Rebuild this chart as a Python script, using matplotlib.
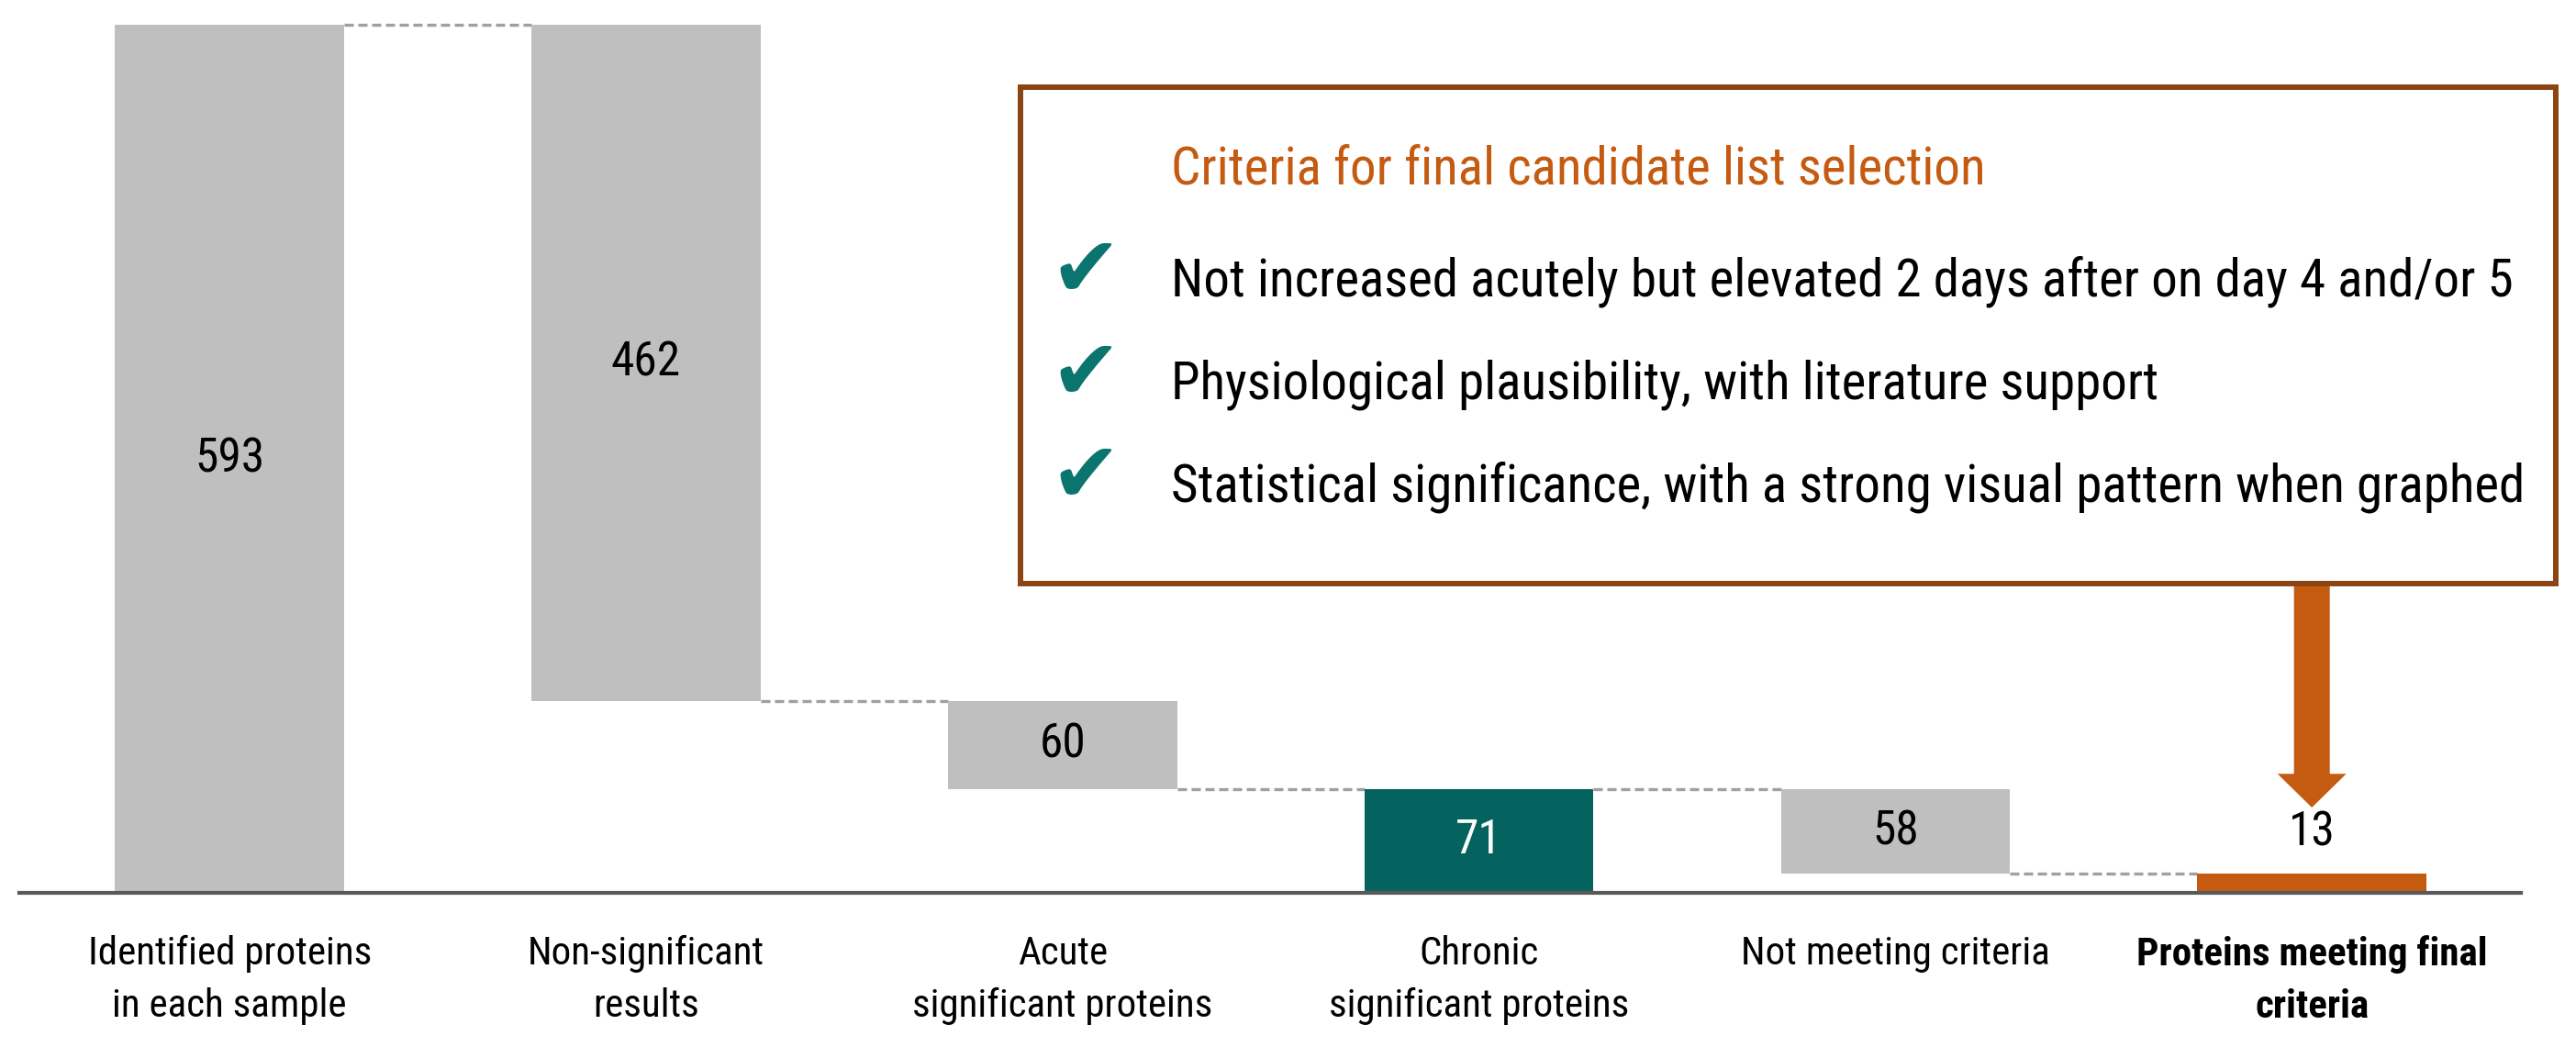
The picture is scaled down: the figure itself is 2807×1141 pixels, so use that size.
import matplotlib
matplotlib.use('Agg')
import matplotlib.pyplot as plt
from matplotlib import font_manager
from matplotlib.patches import Rectangle, FancyArrow

# pick a condensed font if there is one
names = {f.name for f in font_manager.fontManager.ttflist}
main_font = 'DejaVu Sans'
for cand in ['Roboto Condensed', 'Liberation Sans Narrow', 'Roboto', 'Liberation Sans']:
    if cand in names:
        main_font = cand
        break
plt.rcParams['font.family'] = [main_font, 'DejaVu Sans']

categories = ['Identified proteins\nin each sample', 'Non-significant\nresults',
              'Acute\nsignificant proteins', 'Chronic\nsignificant proteins',
              'Not meeting criteria', 'Proteins meeting final\ncriteria']
values = [593, 462, 60, 71, 58, 13]
kinds = ['total', 'down', 'down', 'total', 'down', 'total']

criteria_title = 'Criteria for final candidate list selection'
criteria = ['Not increased acutely but elevated 2 days after on day 4 and/or 5',
            'Physiological plausibility, with literature support',
            'Statistical significance, with a strong visual pattern when graphed']

GRAY = '#BFBFBF'
TEAL = '#05635F'
ORANGE = '#C55A11'
BROWN = '#8B4513'

W, H = 2807, 1141
fig = plt.figure(figsize=(W / 100, H / 100), dpi=100)
ax = fig.add_axes([21 / W, 168 / H, 2726 / W, 973 / H])

def fx(px):
    return px / W

def fy(py):
    return 1 - py / H

# waterfall bottoms
bottoms = []
level = 0
for v, k in zip(values, kinds):
    if k == 'total':
        bottoms.append(0)
        level = v
    else:
        level = level - v
        bottoms.append(level)

colors = [GRAY, GRAY, GRAY, TEAL, GRAY, ORANGE]
xs = list(range(len(values)))
bw = 0.55
ax.bar(xs, values, bottom=bottoms, width=bw, color=colors, zorder=2)

# dashed connectors
for i in range(len(values) - 1):
    lev = bottoms[i] + values[i] if kinds[i] == 'total' else bottoms[i]
    ax.plot([xs[i] + bw / 2, xs[i + 1] - bw / 2], [lev, lev], color='#A0A0A0',
            lw=2.4, ls=(0, (3, 1.5)), zorder=1)

# value labels
for i, (v, b) in enumerate(zip(values, bottoms)):
    if i == len(values) - 1:
        ax.annotate(str(v), (xs[i], b + v), xytext=(0, 32), textcoords='offset points',
                    ha='center', va='center', fontsize=37, color='black')
    else:
        ax.text(xs[i], b + v / 2, str(v), ha='center', va='center', fontsize=37,
                color='white' if colors[i] == TEAL else 'black')

ax.set_xlim(-0.505, 5.502)
ax.set_ylim(0, 610)
for s in ['top', 'right', 'left']:
    ax.spines[s].set_visible(False)
ax.spines['bottom'].set_color('#595959')
ax.spines['bottom'].set_linewidth(3)
ax.spines['bottom'].set_zorder(3)
ax.set_yticks([])
ax.set_xticks(xs)
ax.set_xticklabels(categories, fontsize=31, linespacing=1.5)
ax.get_xticklabels()[-1].set_fontweight('bold')
ax.tick_params(axis='x', length=0, pad=33)

# criteria box
box = Rectangle((fx(1112), fy(636)), fx(2785) - fx(1112), fy(95) - fy(636),
                transform=fig.transFigure, fill=False, edgecolor=BROWN, lw=4.3)
fig.patches.append(box)
fig.text(fx(1276), fy(185), criteria_title, color=ORANGE, fontsize=41,
         ha='left', va='center')
for yy, line in zip([307, 419, 531], criteria):
    fig.text(fx(1276), fy(yy), line, color='black', fontsize=41,
             ha='left', va='center')
    fig.text(fx(1183), fy(yy - 10), '\u2714', color='#0A756E', fontsize=66,
             ha='center', va='center', family='DejaVu Sans')

# arrow from box to the final bar
top_y = (973 - 636) / 1.595
tip_y = (973 - 880) / 1.595
arrow = FancyArrow(xs[-1], top_y, 0, tip_y - top_y, width=0.086, head_width=0.165,
                   head_length=23, length_includes_head=True, color=ORANGE, lw=0, zorder=4)
ax.add_patch(arrow)

fig.savefig('out.png', dpi=100)
